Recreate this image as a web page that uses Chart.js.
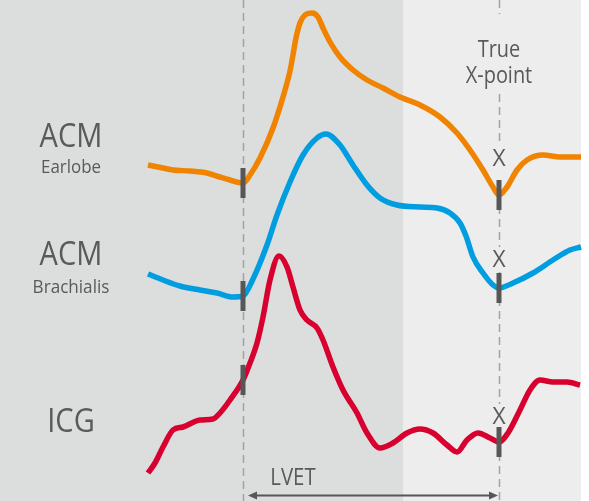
<!DOCTYPE html>
<html><head><meta charset="utf-8">
<script src="https://cdn.jsdelivr.net/npm/chart.js@4/dist/chart.umd.min.js"></script>
<style>html,body{margin:0;padding:0;background:#fff;overflow:hidden}canvas{display:block}</style>
</head><body>
<canvas id="c" width="589" height="501"></canvas>
<script>
// time in ms (0 = onset of ejection), amplitude in arbitrary stacked units
const earlobeTime = [-95,-80,-70,-53,-36,-23,-13,0,7,17,30,40,47,50,53,57,62,69,75,80,87,97,110,124,140,157,177,197,214,227,240,250,256,264,274,284,300,317,338];
const earlobeAmp  = [336,333,331,330,328,324,321,318,326,343,373,404,430,446,463,478,486,488,484,473,459,444,431,421,413,404,396,384,368,351,331,314,306,314,331,341,346,344,344];

const brachialisTime = [-95,-80,-63,-43,-26,-10,0,10,24,34,47,60,74,83,97,110,124,137,154,177,194,207,217,223,230,240,250,256,270,290,310,327,338];
const brachialisAmp  = [227,221,215,211,208,204,205,222,256,286,319,346,363,367,356,336,316,303,296,294,293,288,278,265,244,228,216,213,218,228,241,251,254];

const icgTime = [-95,-88,-80,-70,-60,-43,-30,-23,-13,0,7,14,20,27,36,44,50,57,64,74,80,90,100,114,124,137,150,164,177,190,204,214,224,235,247,256,265,277,287,297,310,324,337];
const icgAmp  = [28,38,54,71,74,81,82,88,101,121,138,158,184,221,245,234,214,191,181,173,161,134,111,88,68,53,58,68,72,68,56,49,61,68,63,59,68,91,111,121,119,119,116];

const markerTimes = [0, 256];            // onset and true X-point
const earlobeMarkers    = [318, 306];
const brachialisMarkers = [205, 213];
const icgMarkers        = [121, 59];

const traceLabels = [["ACM","Earlobe"],["ACM","Brachialis"],["ICG"]];
const xPointLabel = "X";
const truePointLabel = ["True","X-point"];
const intervalLabel = "LVET";

const timeMin = -243, timeMax = 346, ampMin = 0, ampMax = 501;
const shadeEnd = 160, plotEnd = 338;

const zip = (t, v) => t.map((x, i) => ({x, y: v[i]}));

const COL = {orange:'#f08300', blue:'#009ee0', red:'#d7002e', dark:'#575757', text:'#5a5a5a',
             dash:'#a3a3a3', bgDark:'#dcdddd', bgLight:'#ecedec'};

function txt(ctx, s, cx, base, size, sx) {
  ctx.save();
  ctx.font = size + 'px "Open Sans"';
  ctx.fillStyle = COL.text;
  ctx.textAlign = 'center';
  ctx.textBaseline = 'alphabetic';
  ctx.translate(cx, base);
  ctx.scale(sx || 0.87, 1);
  ctx.fillText(s, 0, 0);
  ctx.restore();
}

const decor = {
  id: 'decor',
  beforeDraw(chart) {
    const {ctx, width, height} = chart;
    const xs = chart.scales.x;
    ctx.save();
    ctx.fillStyle = '#ffffff';
    ctx.fillRect(0, 0, width, height);
    const a = xs.getPixelForValue(shadeEnd), b = xs.getPixelForValue(plotEnd);
    ctx.fillStyle = COL.bgDark;
    ctx.fillRect(0, 0, a, height);
    ctx.fillStyle = COL.bgLight;
    ctx.fillRect(a, 0, b - a, height);
    ctx.restore();
  },
  beforeDatasetsDraw(chart) {
    const {ctx, height} = chart;
    const xs = chart.scales.x;
    ctx.save();
    ctx.strokeStyle = COL.dash;
    ctx.lineWidth = 1.5;
    ctx.setLineDash([8, 5]);
    const x0 = Math.round(xs.getPixelForValue(markerTimes[0])) + 0.5;
    ctx.beginPath(); ctx.moveTo(x0, 0); ctx.lineTo(x0, height); ctx.stroke();
    const x1 = Math.round(xs.getPixelForValue(markerTimes[1])) + 0.5;
    const segs = [[0,14],[94,146],[180,247],[272,404],[427,height]];
    segs.forEach(([s,e]) => { ctx.beginPath(); ctx.moveTo(x1, s); ctx.lineTo(x1, e); ctx.stroke(); });
    ctx.restore();
  },
  afterDatasetsDraw(chart) {
    const {ctx} = chart;
    const xs = chart.scales.x;
    // left labels
    txt(ctx, traceLabels[0][0], 71, 147, 33, 0.88);
    txt(ctx, traceLabels[0][1], 71, 173, 19, 0.89);
    txt(ctx, traceLabels[1][0], 71, 265, 33, 0.88);
    txt(ctx, traceLabels[1][1], 71, 293, 19, 0.9);
    txt(ctx, traceLabels[2][0], 71, 432, 33, 0.88);
    const xp = xs.getPixelForValue(markerTimes[1]);
    txt(ctx, truePointLabel[0], xp, 57, 24, 0.83);
    txt(ctx, truePointLabel[1], xp, 83, 24, 0.83);
    [166, 267, 424].forEach(b => txt(ctx, xPointLabel, xp, b, 24, 0.95));
    const xa = xs.getPixelForValue(markerTimes[0]);
    txt(ctx, intervalLabel, xa + 50, 485, 24, 0.85);
    // arrow
    const y = 495.5, l = xa + 5, r = xp - 1;
    ctx.save();
    ctx.strokeStyle = COL.dark; ctx.fillStyle = COL.dark; ctx.lineWidth = 2;
    ctx.beginPath(); ctx.moveTo(l + 6, y); ctx.lineTo(r - 6, y); ctx.stroke();
    ctx.beginPath(); ctx.moveTo(l, y); ctx.lineTo(l + 9, y - 4); ctx.lineTo(l + 9, y + 4); ctx.closePath(); ctx.fill();
    ctx.beginPath(); ctx.moveTo(r, y); ctx.lineTo(r - 9, y - 4); ctx.lineTo(r - 9, y + 4); ctx.closePath(); ctx.fill();
    ctx.restore();
  }
};

const lineDs = (data, color) => ({data, showLine: true, borderColor: color, borderWidth: 5.5,
  pointRadius: 0, cubicInterpolationMode: 'monotone', fill: false, order: 2,
  borderCapStyle: 'butt', borderJoinStyle: 'round'});
const markDs = (data) => ({data, showLine: false, pointStyle: 'line', pointRotation: 90, pointRadius: 15,
  pointBorderWidth: 5, pointBorderColor: COL.dark, pointBackgroundColor: COL.dark, order: 0});

new Chart(document.getElementById('c'), {
  type: 'scatter',
  data: { datasets: [
    lineDs(zip(earlobeTime, earlobeAmp), COL.orange),
    lineDs(zip(brachialisTime, brachialisAmp), COL.blue),
    lineDs(zip(icgTime, icgAmp), COL.red),
    markDs(zip(markerTimes, earlobeMarkers)),
    markDs(zip(markerTimes, brachialisMarkers)),
    markDs(zip(markerTimes, icgMarkers))
  ]},
  options: {
    responsive: false, animation: false, events: [],
    layout: {padding: 0, autoPadding: false},
    plugins: {legend: {display: false}, tooltip: {enabled: false}},
    scales: {
      x: {type: 'linear', min: timeMin, max: timeMax, display: false},
      y: {type: 'linear', min: ampMin, max: ampMax, display: false}
    }
  },
  plugins: [decor]
});
</script>
</body></html>
